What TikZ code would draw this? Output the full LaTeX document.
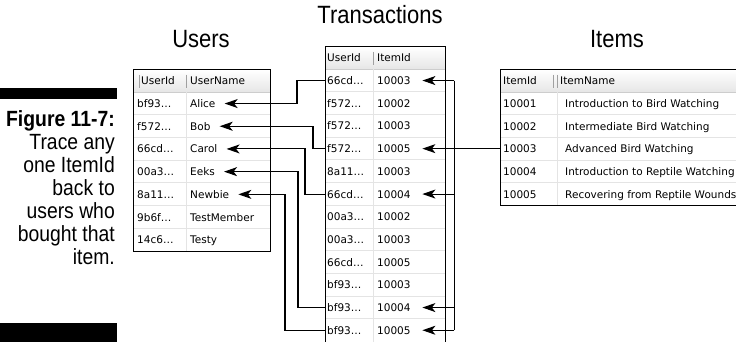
\documentclass[tikz,border=0pt]{standalone}
\usepackage{fontspec}
\setmainfont{Liberation Sans}
\newfontfamily\tabfont{DejaVu Sans}
\newfontfamily\condfont[FakeStretch=0.88]{Liberation Sans}
\usetikzlibrary{arrows.meta,positioning,calc}
\definecolor{gridgrey}{RGB}{228,228,228}
\definecolor{headgrey}{RGB}{230,230,230}
\definecolor{headline}{RGB}{205,205,205}
\definecolor{divgrey}{RGB}{160,160,160}

\begin{document}
\begin{tikzpicture}[x=1pt, y=-1pt,
    cell/.style={anchor=base west, inner sep=0pt,
        font=\tabfont\fontsize{10.5}{12}\selectfont},
    rowbox/.style={anchor=north west, inner sep=0pt, minimum height=22.7pt},
    title/.style={anchor=base, inner sep=0pt,
        font=\condfont\fontsize{25}{28}\selectfont},
    gridline/.style={draw=gridgrey, line width=0.8pt},
    headdiv/.style={draw=divgrey, line width=0.6pt},
    frame/.style={draw=black, line width=1pt},
    wire/.style={line width=1.1pt},
    link/.style={wire, -{Stealth[length=13pt, width=9pt, inset=3.5pt]}}
]
    \useasboundingbox (0,0) rectangle (736,342);

    % Caption with bars
    \fill (0,88) rectangle (117,99);
    \fill (0,323) rectangle (117,342);
    \node[anchor=north east, inner sep=0pt, align=right,
        font=\condfont\fontsize{22}{23}\selectfont] (caption) at (115,110)
        {\textbf{Figure 11-7:}\\Trace any\\one ItemId\\back to\\users who\\bought that\\item.};

    % Titles
    \node[title] (users-title) at (201,48) {Users};
    \node[title] (trans-title) at (380,24) {Transactions};
    \node[title] (items-title) at (617,48) {Items};

    % Users table
    \fill[white] (133,70) rectangle (270,251);
    \shade[top color=white, bottom color=headgrey] (133,70) rectangle (270,92);
    \draw[headline] (133,92) -- (270,92);
    \foreach \i in {1,...,6}
        \draw[gridline] (133,{92+22.7*\i}) -- (270,{92+22.7*\i});
    \draw[gridline] (186,92) -- (186,251);
    \draw[headdiv] (139,75) -- (139,88) (186,75) -- (186,88);
    \draw[frame] (133,70) rectangle (270,251);
    \node[cell] (u-head-1) at (141,85) {UserId};
    \node[cell] (u-head-2) at (190,85) {UserName};
    \foreach \uid/\uname [count=\i] in {bf93…/Alice, f572…/Bob, 66cd…/Carol,
            00a3…/Eeks, 8a11…/Newbie, 9b6f…/TestMember, 14c6…/Testy} {
        \node[rowbox, minimum width=137pt] (u-row-\i) at (133,{92+22.7*(\i-1)}) {};
        \node[cell] (u-id-\i) at ([xshift=4pt, yshift=-4pt]u-row-\i.west) {\uid};
        \node[cell] (u-nm-\i) at ([xshift=57pt, yshift=-4pt]u-row-\i.west) {\uname};
    }

    % Transactions table
    \fill[white] (325,47) rectangle (445,346);
    \shade[top color=white, bottom color=headgrey] (325,47) rectangle (445,69);
    \draw[headline] (325,69) -- (445,69);
    \foreach \i in {1,...,11}
        \draw[gridline] (325,{69+22.7*\i}) -- (445,{69+22.7*\i});
    \draw[gridline] (373,69) -- (373,346);
    \draw[headdiv] (373,52) -- (373,65);
    \draw[frame] (325,47) rectangle (445,346);
    \node[cell] (t-head-1) at (327,62) {UserId};
    \node[cell] (t-head-2) at (377,62) {ItemId};
    \foreach \uid/\iid [count=\i] in {66cd…/10003, f572…/10002, f572…/10003,
            f572…/10005, 8a11…/10003, 66cd…/10004, 00a3…/10002, 00a3…/10003,
            66cd…/10005, bf93…/10003, bf93…/10004, bf93…/10005} {
        \node[rowbox, minimum width=120pt] (t-row-\i) at (325,{69+22.7*(\i-1)}) {};
        \node[cell] (t-uid-\i) at ([xshift=2pt, yshift=-4pt]t-row-\i.west) {\uid};
        \node[cell] (t-iid-\i) at ([xshift=52pt, yshift=-4pt]t-row-\i.west) {\iid};
    }

    % Items table
    \fill[white] (500,70) rectangle (740,205.5);
    \shade[top color=white, bottom color=headgrey] (500,70) rectangle (740,92);
    \draw[headline] (500,92) -- (740,92);
    \foreach \i in {1,...,4}
        \draw[gridline] (500,{92+22.7*\i}) -- (740,{92+22.7*\i});
    \draw[gridline] (557,92) -- (557,205.5);
    \draw[headdiv] (553,75) -- (553,88) (557,75) -- (557,88);
    \draw[frame] (500,70) rectangle (740,205.5);
    \node[cell] (i-head-1) at (503,85) {ItemId};
    \node[cell] (i-head-2) at (560,85) {ItemName};
    \foreach \iid/\iname [count=\i] in {10001/Introduction to Bird Watching,
            10002/Intermediate Bird Watching, 10003/Advanced Bird Watching,
            10004/Introduction to Reptile Watching,
            10005/Recovering from Reptile Wounds} {
        \node[rowbox, minimum width=240pt] (i-row-\i) at (500,{92+22.7*(\i-1)}) {};
        \node[cell] (i-id-\i) at ([xshift=3pt, yshift=-4pt]i-row-\i.west) {\iid};
        \node[cell] (i-nm-\i) at ([xshift=65pt, yshift=-4pt]i-row-\i.west) {\iname};
    }

    % Transactions back to Users
    \foreach \u/\t/\dx in {1/1/28, 2/4/12, 3/6/20, 4/11/27, 5/12/40}
        \draw[link] (t-row-\t.west) -- ++(-\dx,0)
            |- ($(u-nm-\u.east |- u-row-\u.west)+(9,0)$);

    % Items to Transactions
    \draw[link] (i-row-3.west |- t-row-4.east) -- ($(t-row-4.east)+(-23,0)$);
    \draw[wire] ($(t-row-1.east)+(9,0)$) -- ($(t-row-12.east)+(9,0)$);
    \foreach \t in {1,6,11,12}
        \draw[link] ($(t-row-\t.east)+(9,0)$) -- ($(t-row-\t.east)+(-23,0)$);
\end{tikzpicture}
\end{document}
